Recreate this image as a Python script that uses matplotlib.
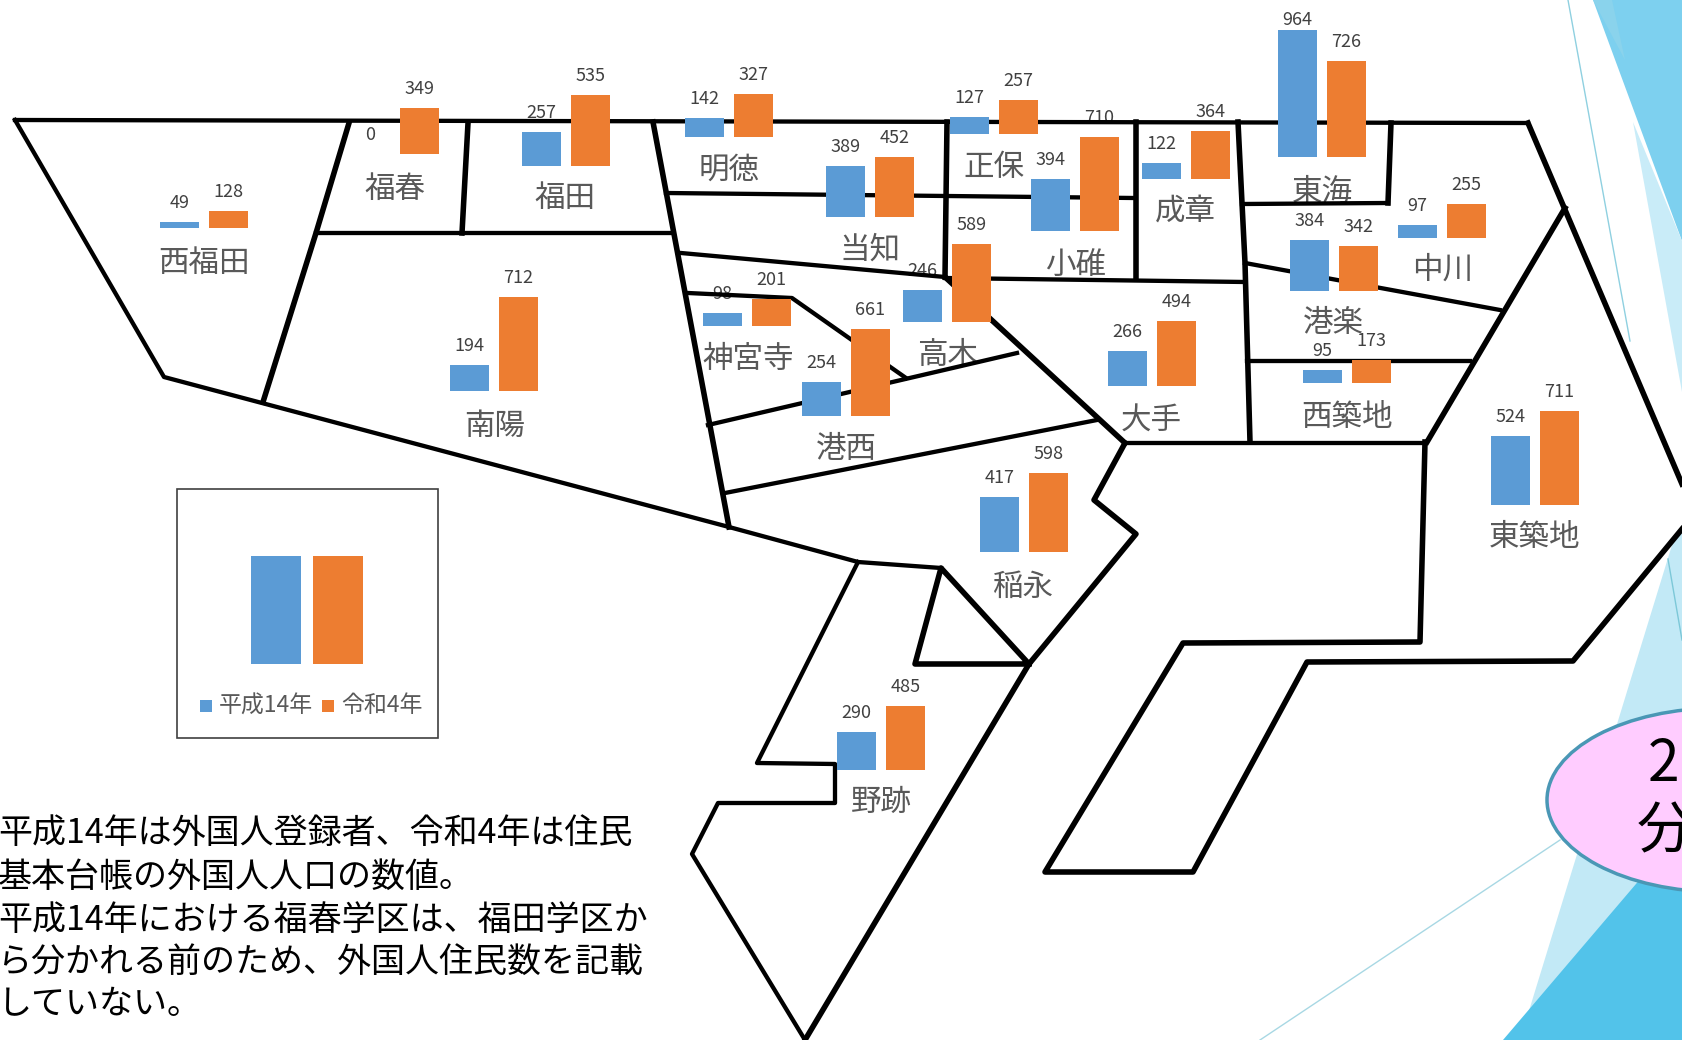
import matplotlib
matplotlib.use("Agg")
import matplotlib.pyplot as plt
from matplotlib.patches import Ellipse, Polygon, Rectangle

plt.rcParams['font.family'] = ['Noto Sans CJK JP', 'DejaVu Sans']

# foreign residents per school district
regions = ["西福田", "福春", "福田", "南陽", "明徳", "当知", "正保", "小碓", "成章", "東海", "港楽",
           "中川", "神宮寺", "高木", "港西", "大手", "西築地", "東築地", "稲永", "野跡"]
heisei14 = [49, 0, 257, 194, 142, 389, 127, 394, 122, 964, 384,
            97, 98, 246, 254, 266, 95, 524, 417, 290]
reiwa4 = [128, 349, 535, 712, 327, 452, 257, 710, 364, 726, 342,
          255, 201, 589, 661, 494, 173, 711, 598, 485]
series_names = ["平成14年", "令和4年"]

# where each small chart sits on the map
group_x = [204, 395, 566, 494, 729, 870, 994, 1075, 1186, 1322, 1334,
           1442, 747, 947, 846, 1152, 1347, 1535, 1024, 881]
group_base = [228, 154, 166, 391, 137, 217, 134, 231, 179, 157, 291,
              238, 326, 322, 416, 386, 383, 505, 552, 770]
name_x = [204, 395, 565, 495, 729, 870, 994, 1076, 1185, 1322, 1333,
          1443, 748, 948, 846, 1151, 1347, 1535, 1023, 881]
name_y = [263, 189, 198, 426, 170, 250, 167, 265, 211, 192, 324,
          270, 360, 355, 449, 421, 418, 537, 587, 802]

notes = ["平成14年は外国人登録者、令和4年は住民",
         "基本台帳の外国人人口の数値。",
         "平成14年における福春学区は、福田学区か",
         "ら分かれる前のため、外国人住民数を記載",
         "していない。"]
note_y = [833, 877, 920, 962, 1005]

# district boundaries
thick_lines = [
    [(349, 123), (316, 233), (263, 402)],
    [(468, 123), (462, 233)],
    [(653, 122), (729, 527)],
    [(947, 122), (945, 277)],
    [(1136, 122), (1136, 278)],
    [(1238, 122), (1242, 203), (1245, 263), (1250, 442)],
    [(1391, 123), (1388, 203)],
    [(1528, 123), (1682, 484)],
    [(1565, 208), (1427, 442)],
    [(945, 277), (1125, 443)],
    [(1125, 443), (1094, 500), (1136, 534), (1029, 664), (941, 568), (915, 664), (1029, 664)],
    [(1029, 664), (805, 1040)],
    [(1425, 442), (1420, 642), (1183, 643), (1045, 872), (1193, 872), (1307, 662), (1573, 661), (1682, 529)],
]
thin_lines = [
    [(15, 120), (1528, 123)],
    [(15, 120), (164, 377), (729, 527), (858, 562), (941, 568)],
    [(858, 562), (757, 763), (835, 764), (835, 803), (718, 803), (692, 854), (805, 1040)],
    [(316, 233), (672, 233)],
    [(666, 193), (947, 196), (1134, 198)],
    [(681, 253), (945, 277)],
    [(945, 278), (1245, 282)],
    [(688, 293), (792, 298), (906, 378)],
    [(708, 425), (1017, 353)],
    [(725, 493), (1097, 420)],
    [(1125, 443), (1425, 443)],
    [(1242, 204), (1388, 203)],
    [(1245, 263), (1500, 310)],
    [(1247, 361), (1470, 361)],
]

blue = "#5B9BD5"
orange = "#ED7D31"
grey = "#595959"
bar_w = 39
bar_gap = 10
px_per_person = 0.132

fig = plt.figure(figsize=(16.82, 10.4), dpi=100)
ax = fig.add_axes([0, 0, 1, 1])
ax.set_xlim(0, 1682)
ax.set_ylim(1040, 0)
ax.axis("off")

# slide background shapes on the right
ax.add_patch(Polygon([(1593, 0), (1682, 0), (1682, 241)], fc="#7DD0EF", ec="none", zorder=0))
ax.add_patch(Polygon([(1593, 0), (1612, 0), (1625, 60)], fc="#8AD3EC", ec="none", zorder=0))
ax.add_patch(Polygon([(1633, 122), (1682, 241), (1682, 392)], fc="#C9ECF8", ec="none", zorder=0))
ax.add_patch(Polygon([(1672, 545), (1682, 530), (1682, 1040), (1520, 1040)], fc="#C2E9F6", ec="none", zorder=0))
ax.add_patch(Polygon([(1503, 1040), (1682, 830), (1682, 1040)], fc="#52C3EA", ec="none", zorder=0))
ax.plot([1568, 1630], [0, 341], color="#8FD0E0", lw=1, zorder=0)
ax.plot([1668, 1682], [559, 640], color="#7CC8D8", lw=1, zorder=0)
ax.plot([1560, 1260], [840, 1040], color="#A8D8E4", lw=1, zorder=0)

ax.add_patch(Ellipse((1720, 800), 346, 184, fc="#FFCCFF", ec="#4A97B5", lw=2.5, zorder=4))
ax.text(1648, 765, "2", fontsize=41, color="black", ha="left", va="center", zorder=5)
ax.text(1637, 832, "分", fontsize=41, color="black", ha="left", va="center", zorder=5)

# map lines go over the labels but under the bars
for line in thick_lines:
    ax.plot([p[0] for p in line], [p[1] for p in line], color="black", lw=4.0, zorder=2)
for line in thin_lines:
    ax.plot([p[0] for p in line], [p[1] for p in line], color="black", lw=3.1, zorder=2)

for i in range(len(regions)):
    offset = (bar_w + bar_gap) / 2
    xs = [group_x[i] - offset, group_x[i] + offset]
    vals = [heisei14[i], reiwa4[i]]
    for x, v, c in zip(xs, vals, [blue, orange]):
        ax.bar(x, -v * px_per_person, bar_w, bottom=group_base[i], color=c, zorder=3)
        top = group_base[i] - v * px_per_person
        ax.text(x, max(top - 19, 20), str(v), fontsize=13, color="#404040",
                ha="center", va="center", zorder=1)
    ax.text(name_x[i], name_y[i], regions[i], fontsize=22, color=grey,
            ha="center", va="center", zorder=1)

# legend panel
ax.add_patch(Rectangle((177, 489), 261, 249, fc="white", ec="#404040", lw=1.2, zorder=1))
ax.bar([276, 338], [-108, -108], 50, bottom=664, color=[blue, orange], zorder=3)
ax.add_patch(Rectangle((200, 700), 12, 12, fc=blue, ec="none", zorder=3))
ax.add_patch(Rectangle((322, 700), 12, 12, fc=orange, ec="none", zorder=3))
ax.text(219, 706, series_names[0], fontsize=16.5, color=grey, ha="left", va="center", zorder=3)
ax.text(341, 706, series_names[1], fontsize=16.5, color=grey, ha="left", va="center", zorder=3)

for txt, y in zip(notes, note_y):
    ax.text(-2, y, txt, fontsize=24.5, color="black", ha="left", va="center", zorder=3)

fig.savefig("out.png", dpi=100)
